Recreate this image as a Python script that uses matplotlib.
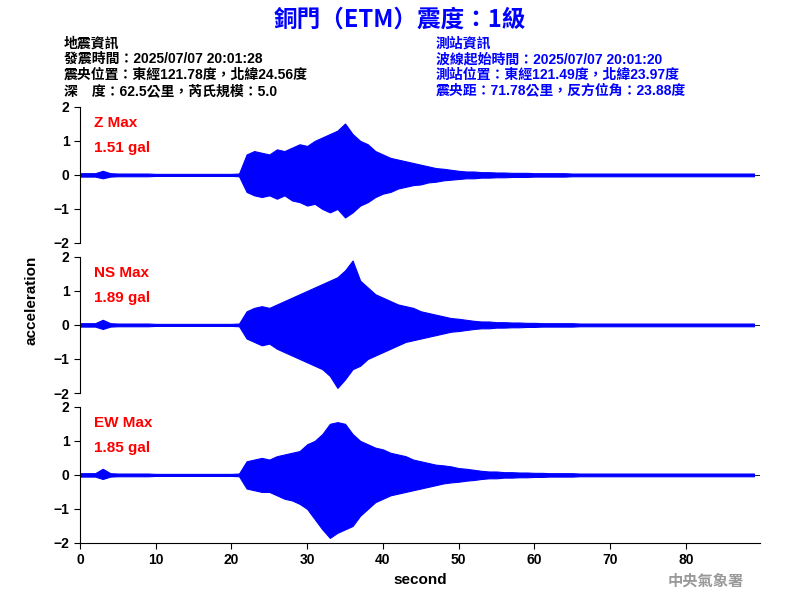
import matplotlib
matplotlib.use("Agg")
import matplotlib.pyplot as plt

plt.rcParams['font.family'] = ['Liberation Sans', 'Noto Sans CJK TC']

# envelope values (gal) per second, 0..89 s
seconds = list(range(90))
z_up = [0.05,0.05,0.05,0.12,0.05,0.04,0.04,0.04,0.04,0.04,0.03,0.03,0.03,0.03,0.03,0.03,0.03,0.03,0.03,0.03,0.03,0.04,
        0.6,0.7,0.65,0.6,0.75,0.7,0.8,0.9,0.85,1.0,1.1,1.2,1.3,1.51,1.2,1.0,0.9,0.7,0.6,0.5,0.45,0.4,0.35,0.3,0.25,0.2,0.18,0.15,
        0.12,0.1,0.1,0.08,0.08,0.07,0.07,0.06,0.06,0.06,0.05,0.05,0.05,0.05,0.05,0.04,0.04,0.04,0.04,0.04,0.04,0.04,0.04,0.04,0.04,
        0.04,0.04,0.04,0.04,0.04,0.04,0.04,0.04,0.04,0.04,0.04,0.04,0.04,0.04,0.04]
z_lo = [-0.05,-0.05,-0.05,-0.1,-0.05,-0.04,-0.04,-0.04,-0.04,-0.04,-0.03,-0.03,-0.03,-0.03,-0.03,-0.03,-0.03,-0.03,-0.03,-0.03,-0.03,-0.04,
        -0.5,-0.6,-0.65,-0.6,-0.7,-0.6,-0.75,-0.8,-0.9,-0.85,-1.0,-1.1,-1.0,-1.25,-1.1,-0.9,-0.8,-0.65,-0.55,-0.5,-0.4,-0.35,-0.3,-0.28,-0.22,-0.2,-0.16,-0.14,
        -0.12,-0.1,-0.1,-0.08,-0.08,-0.07,-0.07,-0.06,-0.06,-0.06,-0.05,-0.05,-0.05,-0.05,-0.05,-0.04,-0.04,-0.04,-0.04,-0.04,-0.04,-0.04,-0.04,-0.04,-0.04,
        -0.04,-0.04,-0.04,-0.04,-0.04,-0.04,-0.04,-0.04,-0.04,-0.04,-0.04,-0.04,-0.04,-0.04,-0.04]
ns_up = [0.05,0.05,0.05,0.15,0.05,0.04,0.04,0.04,0.04,0.04,0.03,0.03,0.03,0.03,0.03,0.03,0.03,0.03,0.03,0.03,0.03,0.04,
         0.4,0.5,0.55,0.5,0.6,0.7,0.8,0.9,1.0,1.1,1.2,1.3,1.4,1.6,1.89,1.3,1.1,0.9,0.8,0.7,0.6,0.55,0.5,0.4,0.35,0.3,0.25,0.2,
         0.18,0.15,0.12,0.1,0.1,0.08,0.08,0.07,0.07,0.06,0.06,0.05,0.05,0.05,0.05,0.05,0.04,0.04,0.04,0.04,0.04,0.04,0.04,0.04,0.04,
         0.04,0.04,0.04,0.04,0.04,0.04,0.04,0.04,0.04,0.04,0.04,0.04,0.04,0.04,0.04]
ns_lo = [-0.05,-0.05,-0.05,-0.12,-0.05,-0.04,-0.04,-0.04,-0.04,-0.04,-0.03,-0.03,-0.03,-0.03,-0.03,-0.03,-0.03,-0.03,-0.03,-0.03,-0.03,-0.04,
         -0.4,-0.5,-0.6,-0.55,-0.7,-0.8,-0.9,-1.0,-1.1,-1.2,-1.3,-1.5,-1.85,-1.6,-1.3,-1.2,-1.0,-0.9,-0.8,-0.7,-0.6,-0.5,-0.45,-0.4,-0.35,-0.3,-0.25,-0.2,
         -0.18,-0.15,-0.12,-0.1,-0.1,-0.08,-0.08,-0.07,-0.07,-0.06,-0.06,-0.05,-0.05,-0.05,-0.05,-0.05,-0.04,-0.04,-0.04,-0.04,-0.04,-0.04,-0.04,-0.04,-0.04,
         -0.04,-0.04,-0.04,-0.04,-0.04,-0.04,-0.04,-0.04,-0.04,-0.04,-0.04,-0.04,-0.04,-0.04,-0.04]
ew_up = [0.05,0.05,0.05,0.18,0.05,0.04,0.04,0.04,0.04,0.04,0.03,0.03,0.03,0.03,0.03,0.03,0.03,0.03,0.03,0.03,0.03,0.04,
         0.4,0.45,0.5,0.45,0.55,0.6,0.65,0.7,0.9,1.0,1.2,1.5,1.55,1.5,1.2,1.0,0.9,0.8,0.75,0.65,0.6,0.55,0.45,0.4,0.35,0.3,0.28,0.25,
         0.2,0.18,0.15,0.12,0.1,0.1,0.08,0.08,0.07,0.07,0.06,0.06,0.05,0.05,0.05,0.05,0.04,0.04,0.04,0.04,0.04,0.04,0.04,0.04,0.04,
         0.04,0.04,0.04,0.04,0.04,0.04,0.04,0.04,0.04,0.04,0.04,0.04,0.04,0.04,0.04]
ew_lo = [-0.05,-0.05,-0.05,-0.12,-0.05,-0.04,-0.04,-0.04,-0.04,-0.04,-0.03,-0.03,-0.03,-0.03,-0.03,-0.03,-0.03,-0.03,-0.03,-0.03,-0.03,-0.04,
         -0.4,-0.45,-0.5,-0.5,-0.6,-0.7,-0.75,-0.85,-1.0,-1.3,-1.6,-1.85,-1.7,-1.6,-1.5,-1.2,-1.0,-0.8,-0.7,-0.6,-0.55,-0.5,-0.45,-0.4,-0.35,-0.3,-0.25,-0.22,
         -0.2,-0.17,-0.15,-0.12,-0.1,-0.1,-0.08,-0.08,-0.07,-0.07,-0.06,-0.06,-0.05,-0.05,-0.05,-0.05,-0.04,-0.04,-0.04,-0.04,-0.04,-0.04,-0.04,-0.04,-0.04,
         -0.04,-0.04,-0.04,-0.04,-0.04,-0.04,-0.04,-0.04,-0.04,-0.04,-0.04,-0.04,-0.04,-0.04,-0.04]
labels = ["Z Max", "NS Max", "EW Max"]
max_text = ["1.51 gal", "1.89 gal", "1.85 gal"]

fig = plt.figure(figsize=(8, 6), dpi=100)
bottoms = [0.595, 0.345, 0.095]
series = [(z_up, z_lo), (ns_up, ns_lo), (ew_up, ew_lo)]
for i, (b, (up, lo)) in enumerate(zip(bottoms, series)):
    ax = fig.add_axes([0.1, b, 0.85, 0.227])
    ax.fill_between(seconds, lo, up, color='blue', linewidth=0.8)
    ax.axhline(0, color='black', lw=0.6, zorder=0)
    ax.set_xlim(0, 89.8)
    ax.set_ylim(-2, 2)
    ax.set_yticks([-2, -1, 0, 1, 2])
    ax.tick_params(labelsize=10, direction='out', length=4)
    for lab in ax.get_yticklabels():
        lab.set_fontweight('bold')
    ax.spines['top'].set_visible(False)
    ax.spines['right'].set_visible(False)
    ax.text(0.02, 0.93, labels[i], transform=ax.transAxes, color='red', fontsize=11, fontweight='bold', va='top')
    ax.text(0.02, 0.75, max_text[i], transform=ax.transAxes, color='red', fontsize=11, fontweight='bold', va='top')
    if i < 2:
        ax.spines['bottom'].set_visible(False)
        ax.set_xticks([])
    else:
        ax.set_xticks(range(0, 90, 10))
        for lab in ax.get_xticklabels():
            lab.set_fontweight('bold')
        ax.set_xlabel('second', fontsize=11, fontweight='bold')

fig.text(0.04, 0.5, 'acceleration', rotation=90, va='center', ha='center', fontsize=11, fontweight='bold')
fig.text(0.5, 0.968, '銅門（ETM）震度：1級', ha='center', va='center', color='blue', fontsize=17, fontweight='bold',
         family=['Noto Sans CJK TC', 'DejaVu Sans'])
left = ['地震資訊', '發震時間：2025/07/07 20:01:28', '震央位置：東經121.78度，北緯24.56度', '深　度：62.5公里，芮氏規模：5.0']
right = ['測站資訊', '波線起始時間：2025/07/07 20:01:20', '測站位置：東經121.49度，北緯23.97度', '震央距：71.78公里，反方位角：23.88度']
for k, (l, r) in enumerate(zip(left, right)):
    y = 0.928 - k * 0.0265
    fig.text(0.08, y, l, color='black', fontsize=10, fontweight='bold', va='center')
    fig.text(0.545, y, r, color='blue', fontsize=10, fontweight='bold', va='center')
fig.text(0.93, 0.032, '中央氣象署', color='#999999', fontsize=11, fontweight='bold', ha='right', va='center',
         family=['Noto Sans CJK TC', 'DejaVu Sans'])
fig.savefig('out.png')
